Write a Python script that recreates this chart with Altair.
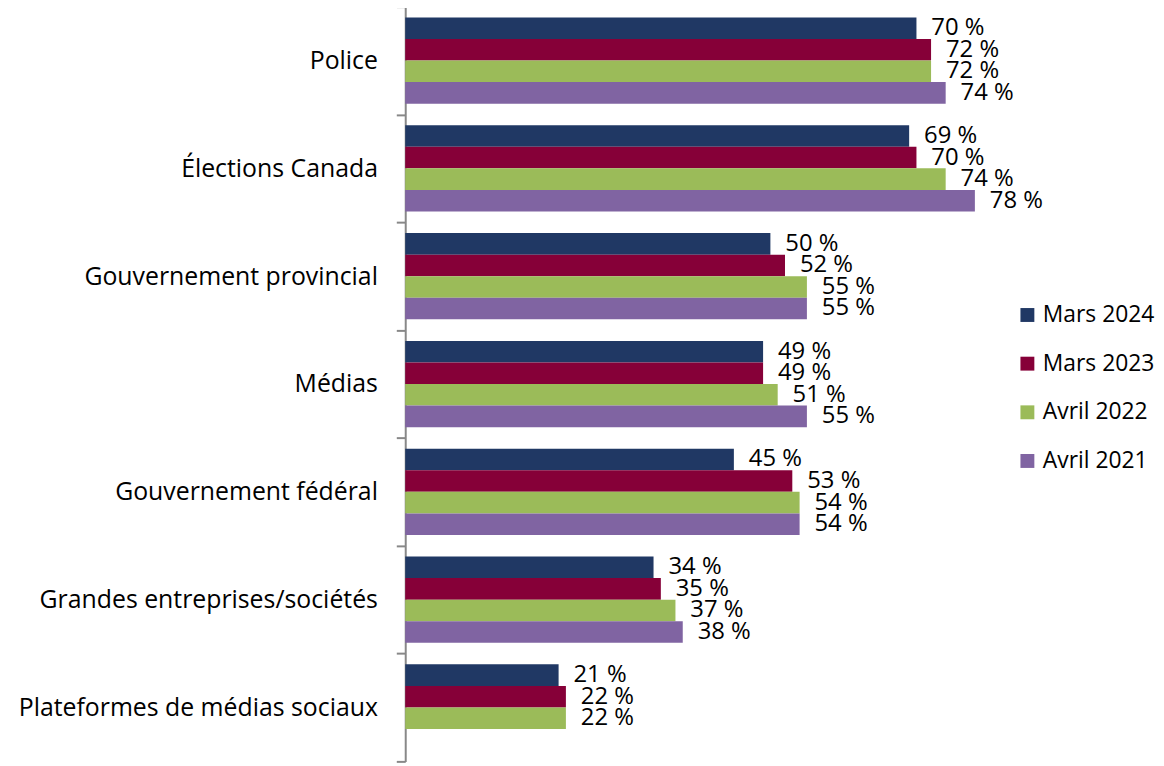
import altair as alt
import pandas as pd

categories = ["Police", "Élections Canada", "Gouvernement provincial", "Médias",
              "Gouvernement fédéral", "Grandes entreprises/sociétés",
              "Plateformes de médias sociaux"]
series = ["Mars 2024", "Mars 2023", "Avril 2022", "Avril 2021"]
colors = ["#203864", "#860038", "#9BBB59", "#8064A2"]

mars_2024 = [70, 69, 50, 49, 45, 34, 21]
mars_2023 = [72, 70, 52, 49, 53, 35, 22]
avril_2022 = [72, 74, 55, 51, 54, 37, 22]
avril_2021 = [74, 78, 55, 55, 54, 38, None]

rows = []
for s, vals in zip(series, [mars_2024, mars_2023, avril_2022, avril_2021]):
    for c, v in zip(categories, vals):
        if v is not None:
            rows.append({"cat": c, "series": s, "value": v, "label": f"{v} %"})
df = pd.DataFrame(rows)

FONT = "Open Sans"
FS = 24

base = alt.Chart(df).encode(
    y=alt.Y("cat:N", sort=categories,
            scale=alt.Scale(paddingInner=0, paddingOuter=0),
            axis=alt.Axis(title=None, tickBand="extent", labelFontSize=25, labelFont=FONT,
                          labelColor="black", domainColor="#888888", tickColor="#888888",
                          tickSize=9, domainWidth=2, tickWidth=2, labelPadding=19,
                          labelLimit=400)),
    yOffset=alt.YOffset("series:N", sort=series,
                        scale=alt.Scale(domain=series, paddingOuter=0.5, paddingInner=0)),
    x=alt.X("value:Q", scale=alt.Scale(domain=[0, 102.8]), axis=None),
)

bars = base.mark_bar().encode(
    color=alt.Color("series:N", sort=series,
                    scale=alt.Scale(domain=series, range=colors),
                    legend=alt.Legend(title=None, orient="none", legendX=615, legendY=299,
                                      symbolType="square", symbolSize=196, symbolStrokeWidth=0,
                                      labelFontSize=23, labelFont=FONT, labelColor="black",
                                      rowPadding=25, labelOffset=4))
)

text = base.mark_text(align="left", baseline="middle", dx=15, fontSize=FS, font=FONT,
                      color="black").encode(text="label:N")

chart = (bars + text).properties(
    width=756, height=760,
    autosize=alt.AutoSizeParams(type="none"),
    padding={"left": 400, "top": -4, "right": 0, "bottom": 0},
).configure_view(stroke=None)

chart.save("out.html", embed_options={"renderer": "svg", "actions": False})
